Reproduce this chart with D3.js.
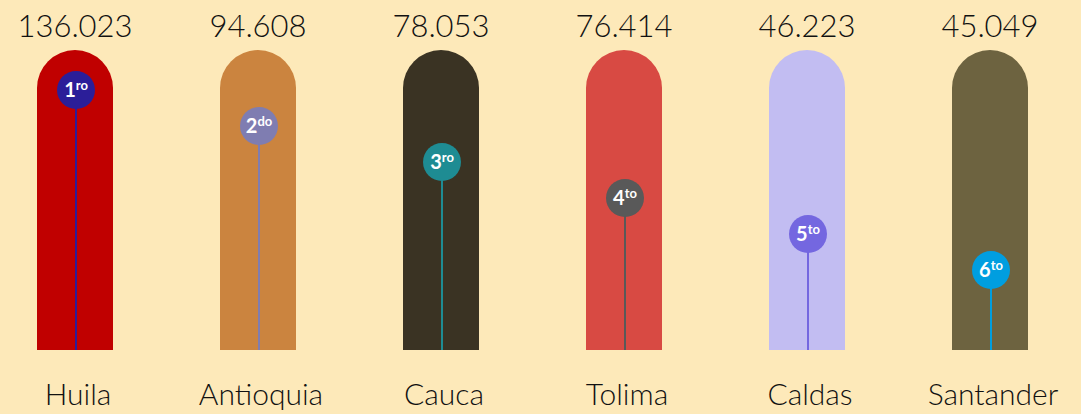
<!DOCTYPE html>
<html>
<head>
<meta charset="utf-8">
<script src="https://cdn.jsdelivr.net/npm/d3@7"></script>
<style>
  html, body { margin: 0; padding: 0; background: #fde9b9; }
  svg { display: block; }
  text { font-family: "Lato", "Open Sans", sans-serif; }
</style>
</head>
<body>
<div id="chart"></div>
<script>
const departamentos = ["Huila", "Antioquia", "Cauca", "Tolima", "Caldas", "Santander"];
const valores = [136.023, 94.608, 78.053, 76.414, 46.223, 45.049];
const puestos = [1, 2, 3, 4, 5, 6];
const sufijos = ["ro", "do", "ro", "to", "to", "to"];
const coloresTubo = ["#c00000", "#cb843f", "#3a3323", "#d84a43", "#c2bdf2", "#6d6340"];
const coloresPuesto = ["#2b1e99", "#7f7db1", "#1e8c93", "#595959", "#7467e0", "#009ee0"];

const width = 1081;
const height = 414;
const anchoTubo = 76;

const data = departamentos.map((d, i) => ({
  nombre: d,
  valor: valores[i],
  puesto: puestos[i],
  sufijo: sufijos[i],
  tubo: coloresTubo[i],
  color: coloresPuesto[i]
}));

const svg = d3.select("#chart")
  .append("svg")
  .attr("width", width)
  .attr("height", height);

svg.append("rect")
  .attr("width", width)
  .attr("height", height)
  .attr("fill", "#fde9b9");

const x = d3.scalePoint()
  .domain(departamentos)
  .range([75, 990]);

// tubes are all the same height
const y = d3.scaleLinear()
  .domain([0, 1])
  .range([350, 50]);

// circle height by ranking
const yPuesto = d3.scaleLinear()
  .domain([1, 6])
  .range([90, 270]);

const r = anchoTubo / 2;

function tubo(d) {
  const cx = x(d.nombre);
  const x0 = cx - r, x1 = cx + r;
  const top = y(1), bottom = y(0);
  return `M${x0},${bottom} L${x0},${top + r} A${r},${r} 0 0 1 ${x1},${top + r} L${x1},${bottom} Z`;
}

svg.append("g")
  .selectAll("path")
  .data(data)
  .join("path")
  .attr("d", tubo)
  .attr("fill", d => d.tubo);

svg.append("g")
  .selectAll("line")
  .data(data)
  .join("line")
  .attr("x1", d => x(d.nombre) + 1)
  .attr("x2", d => x(d.nombre) + 1)
  .attr("y1", d => yPuesto(d.puesto))
  .attr("y2", y(0))
  .attr("stroke", d => d.color)
  .attr("stroke-width", 2);

const marcas = svg.append("g")
  .selectAll("g")
  .data(data)
  .join("g")
  .attr("transform", d => `translate(${x(d.nombre) + 1},${yPuesto(d.puesto)})`);

marcas.append("circle")
  .attr("r", 19)
  .attr("fill", d => d.color);

const etiqueta = marcas.append("text")
  .attr("text-anchor", "middle")
  .attr("y", 7)
  .attr("fill", "#fff")
  .attr("font-weight", 700);

etiqueta.append("tspan")
  .attr("font-size", 20)
  .text(d => d.puesto);

etiqueta.append("tspan")
  .attr("font-size", 13)
  .attr("dy", -7)
  .text(d => d.sufijo);

svg.append("g")
  .selectAll("text")
  .data(data)
  .join("text")
  .attr("x", d => x(d.nombre))
  .attr("y", 37)
  .attr("text-anchor", "middle")
  .attr("font-size", 31)
  .attr("font-weight", 300)
  .attr("fill", "#111")
  .text(d => d3.format(".3f")(d.valor));

svg.append("g")
  .selectAll("text")
  .data(data)
  .join("text")
  .attr("x", d => x(d.nombre) + 3)
  .attr("y", 405)
  .attr("text-anchor", "middle")
  .attr("font-size", 30)
  .attr("font-weight", 300)
  .attr("fill", "#111")
  .text(d => d.nombre);
</script>
</body>
</html>
